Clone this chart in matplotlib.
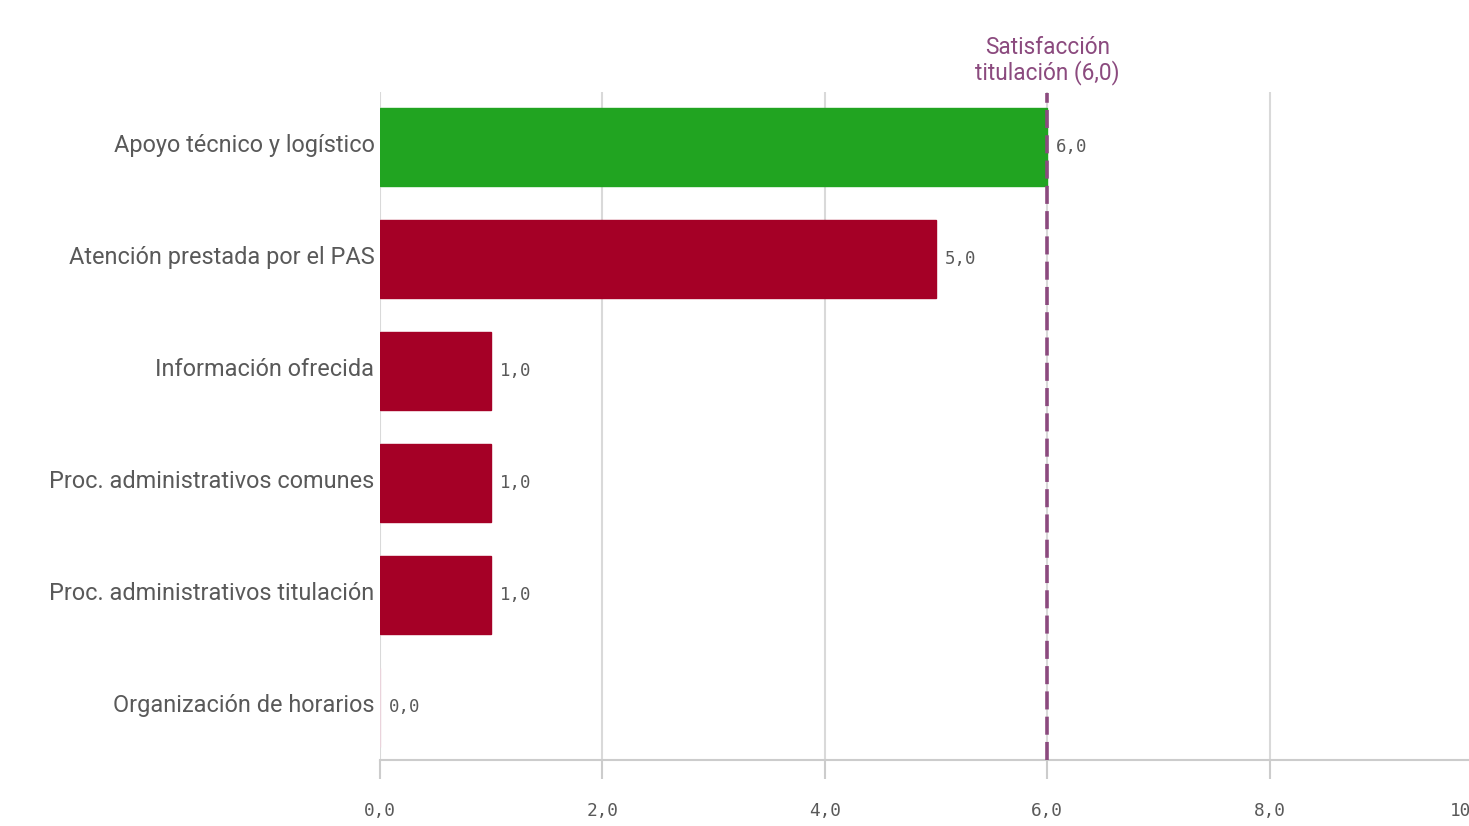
import matplotlib.pyplot as plt
import matplotlib.transforms as mtransforms

categorias = ["Apoyo técnico y logístico",
              "Atención prestada por el PAS",
              "Información ofrecida",
              "Proc. administrativos comunes",
              "Proc. administrativos titulación",
              "Organización de horarios"]
valores = [6.0, 5.0, 1.0, 1.0, 1.0, 0.0]
satisfaccion_titulacion = 6.0
ticks_x = [0, 2, 4, 6, 8, 10]

VERDE = "#21a421"
ROJO = "#a50026"
MORADO = "#8b4a7e"
GRIS_TXT = "#595959"

def fmt(v):
    return ("%.1f" % v).replace(".", ",")

fig = plt.figure(figsize=(14.69, 8.26), dpi=100)
ax = fig.add_axes([380 / 1469, 66 / 826, 1112 / 1469, 668 / 826])

posiciones = list(range(len(categorias)))
colores = [VERDE if v >= satisfaccion_titulacion else ROJO for v in valores]
# una barra a cero se ve como una linea muy clara
bordes = [c if v > 0 else "#ead3db" for c, v in zip(colores, valores)]
ax.barh(posiciones, valores, height=0.7, color=colores, edgecolor=bordes,
        linewidth=1.0, zorder=3)

for p, v in zip(posiciones, valores):
    ax.text(v + 0.08, p, fmt(v), va="center", ha="left", fontsize=12.5,
            family="DejaVu Sans Mono", color=GRIS_TXT, zorder=4)

# linea de referencia
ax.axvline(satisfaccion_titulacion, color=MORADO, lw=2.6,
           dashes=(5, 2), ymax=0.998, zorder=5)
ax.text(satisfaccion_titulacion, -0.55,
        "Satisfacción\ntitulación (" + fmt(satisfaccion_titulacion) + ")",
        ha="center", va="bottom", color=MORADO, fontsize=16.3,
        family="Roboto", linespacing=1.08, clip_on=False)

ax.set_xlim(0, 10)
ax.set_ylim(5.47, -0.49)
ax.set_yticks(posiciones)
ax.set_yticklabels(categorias, fontsize=16.9, family="Roboto", color=GRIS_TXT)
ax.tick_params(axis="y", length=0, pad=4)
# las etiquetas quedan un poco por encima del centro de la barra
subir = mtransforms.ScaledTranslation(0, 4 / 100, fig.dpi_scale_trans)
for lab in ax.get_yticklabels():
    lab.set_transform(lab.get_transform() + subir)

ax.set_xticks(ticks_x)
ax.set_xticklabels([fmt(t) for t in ticks_x], fontsize=12.8,
                   family="DejaVu Sans Mono", color=GRIS_TXT)
ax.get_xticklabels()[-1].set_horizontalalignment("right")
ax.tick_params(axis="x", length=14, width=1.5, color="#cccccc", pad=16)

ax.grid(axis="x", color="#d9d9d9", lw=1.5, zorder=0)
for s in ["top", "right", "left"]:
    ax.spines[s].set_visible(False)
ax.spines["bottom"].set_color("#cccccc")
ax.spines["bottom"].set_linewidth(1.5)

fig.savefig("out.png", dpi=100)
